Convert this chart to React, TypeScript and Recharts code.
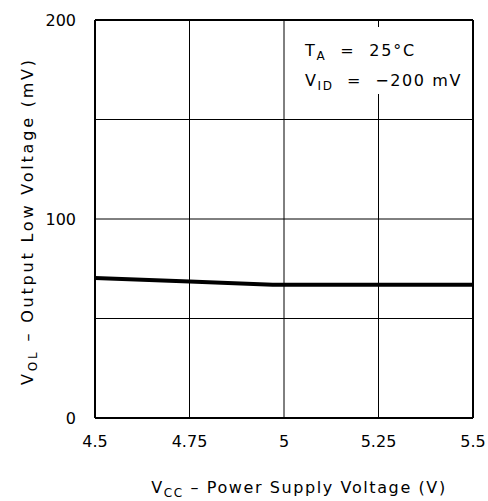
import React from 'react';
import { LineChart, Line, XAxis, YAxis, CartesianGrid, ReferenceLine, Customized } from 'recharts';

const vcc = [4.5, 4.75, 4.97, 5.25, 5.5];
const vol = [70.3, 68.6, 67.0, 67.0, 67.0];
const xTicks = [4.5, 4.75, 5, 5.25, 5.5];
const yTicks = [0, 50, 100, 150, 200];
const yLabelled = [0, 100, 200];

const data = vcc.map((v, i) => ({ vcc: v, vol: vol[i] }));

const FONT = '"DejaVu Sans", sans-serif';
const PRE = { whiteSpace: 'pre' as const };

const XTitle = (props: any) => {
  const vb = props.viewBox || {};
  const cx = vb.x + vb.width / 2;
  return (
    <text x={cx + 15} y={493} textAnchor="middle" fontFamily={FONT} fontSize={16} fill="#000" letterSpacing={1.6} style={PRE}>
      <tspan>V</tspan>
      <tspan fontSize={12} dy={4}>CC</tspan>
      <tspan dy={-4}>{' – Power Supply Voltage (V)'}</tspan>
    </text>
  );
};

const YTitle = (props: any) => {
  const vb = props.viewBox || {};
  const cy = vb.y + vb.height / 2;
  const x = 33;
  return (
    <text x={x} y={cy + 2} transform={`rotate(-90 ${x} ${cy + 2})`} textAnchor="middle" fontFamily={FONT} fontSize={16} fill="#000" letterSpacing={2.8} style={PRE}>
      <tspan>V</tspan>
      <tspan fontSize={12} dy={4}>OL</tspan>
      <tspan dy={-4}>{' – Output Low Voltage (mV)'}</tspan>
    </text>
  );
};

const Annotation = () => (
  <g fontFamily={FONT} fontSize={16} fill="#000">
    <rect x={298} y={27} width={170} height={67} fill="#fff" />
    <text x={305} y={56} letterSpacing={1.8} style={PRE}>
      <tspan>T</tspan>
      <tspan fontSize={12} dy={4}>A</tspan>
      <tspan dy={-4} style={PRE}>{'  =  25°C'}</tspan>
    </text>
    <text x={305} y={86} letterSpacing={1.6} style={PRE}>
      <tspan>V</tspan>
      <tspan fontSize={12} dy={4}>ID</tspan>
      <tspan dy={-4} style={PRE}>{'  =  −200 mV'}</tspan>
    </text>
  </g>
);

export default function App() {
  return (
    <div style={{ position: 'absolute', left: 0, top: 0 }}>
      <LineChart width={488} height={501} data={data} margin={{ top: 20, right: 15, bottom: 0, left: 0 }}>
        <CartesianGrid stroke="#000" strokeWidth={1} horizontalValues={yTicks} verticalValues={xTicks} />
        <XAxis
          dataKey="vcc"
          type="number"
          domain={[4.5, 5.5]}
          ticks={xTicks}
          height={83}
          tickLine={false}
          axisLine={{ stroke: '#000', strokeWidth: 2 }}
          tick={{ fill: '#000', fontFamily: FONT, fontSize: 16 }}
          tickMargin={12}
          tickFormatter={(v: number) => String(v)}
          label={<XTitle />}
        />
        <YAxis
          type="number"
          domain={[0, 200]}
          ticks={yTicks}
          width={95}
          tickLine={false}
          axisLine={{ stroke: '#000', strokeWidth: 2 }}
          tick={{ fill: '#000', fontFamily: FONT, fontSize: 16 }}
          tickMargin={13}
          tickFormatter={(v: number) => (yLabelled.includes(v) ? String(v) : '')}
          label={<YTitle />}
        />
        <ReferenceLine y={200} stroke="#000" strokeWidth={2} />
        <ReferenceLine x={5.5} stroke="#000" strokeWidth={2} />
        <Line type="linear" dataKey="vol" stroke="#000" strokeWidth={4} dot={false} isAnimationActive={false} />
        <Customized component={Annotation} />
      </LineChart>
    </div>
  );
}
